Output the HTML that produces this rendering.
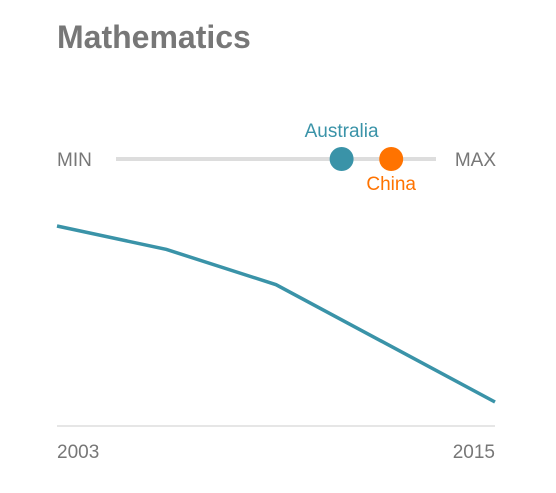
<!DOCTYPE html>
<html><head><meta charset="utf-8"><style>
body{margin:0;background:#fff;width:556px;height:488px;overflow:hidden;font-family:"Liberation Sans",sans-serif}
</style></head><body>
<svg width="556" height="488">
<text x="57" y="48" font-size="32" font-weight="bold" fill="#777">Mathematics</text>
<text x="57" y="166" font-size="19" fill="#777">MIN</text>
<text x="496" y="166" font-size="19" fill="#777" text-anchor="end">MAX</text>
<line x1="116" y1="159" x2="436" y2="159" stroke="#ddd" stroke-width="4"/>
<g id="dots"></g>
<line x1="57" y1="426" x2="495" y2="426" stroke="#ddd" stroke-width="1.5"/>
<g id="lines"></g>
<g id="xlabels"></g>
</svg>
<script>
const years=[2003,2006,2009,2012,2015];
const australiaScores=[524,520,514,504,494];
const tickYears=[2003,2015];
const rangeNames=["Australia","China"];
const rangePos=[0.705,0.86];
const rangeColors=["#3a93a8","#ff7300"];
const NS="http://www.w3.org/2000/svg";
const xS=y=>57+(y-2003)/(2015-2003)*438;
const yS=v=>226+(524-v)*176/30;
const lines=document.getElementById('lines');
const p=document.createElementNS(NS,'path');
p.setAttribute('d',years.map((y,i)=>(i?'L':'M')+xS(y)+','+yS(australiaScores[i])).join(''));
p.setAttribute('fill','none');p.setAttribute('stroke','#3a93a8');p.setAttribute('stroke-width','3.5');


lines.appendChild(p);
const xl=document.getElementById('xlabels');
tickYears.forEach((y,i)=>{const t=document.createElementNS(NS,'text');
t.setAttribute('x',xS(y));t.setAttribute('y',458);t.setAttribute('font-size','19');t.setAttribute('fill','#777');
t.setAttribute('text-anchor',i==0?'start':'end');t.textContent=y;


xl.appendChild(t);});
const dots=document.getElementById('dots');
const rx=f=>116+f*320;
rangeNames.forEach((n,i)=>{const c=document.createElementNS(NS,'circle');
c.setAttribute('cx',rx(rangePos[i]));c.setAttribute('cy',159);c.setAttribute('r',12);c.setAttribute('fill',rangeColors[i]);


dots.appendChild(c);
const t=document.createElementNS(NS,'text');
t.setAttribute('x',rx(rangePos[i]));t.setAttribute('y',i==0?137:190);t.setAttribute('font-size','19');t.setAttribute('fill',rangeColors[i]);
t.setAttribute('text-anchor','middle');t.textContent=n;


dots.appendChild(t);});
</script>
</body></html>
